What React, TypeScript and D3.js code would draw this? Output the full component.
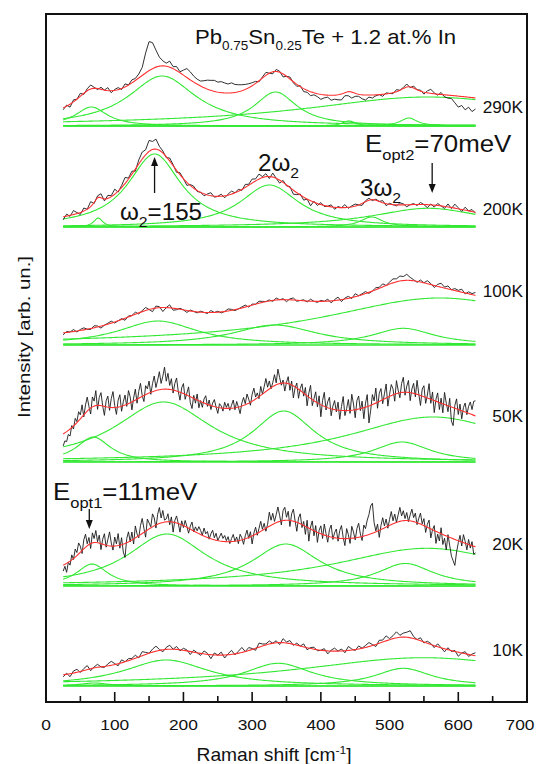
import React from "react";
import * as d3 from "d3";

// ---------- data ----------
const temperatures = ["290K", "200K", "100K", "50K", "20K", "10K"];
// vertical offset of each spectrum (arb. units)
const baselines = [576, 475, 357, 240, 116, 16];
const labelLevels = [594, 492, 410, 285, 157, 51];

// fitted components: [centre (cm-1), amplitude, half width (cm-1)]
const peaks290 = [[66, 19, 28], [169, 50, 60], [334, 34, 38], [555, 29, 220], [441, 5, 12], [528, 8, 15]];
const peaks200 = [[76, 9, 8], [158, 73, 47], [325, 42, 52], [474, 10, 20], [556, 18.7, 100]];
const peaks100 = [[163, 24, 70], [333, 20, 75], [520, 16.7, 55], [573, 47, 207]];
const peaks50 = [[69, 25, 30], [171, 60, 85], [346, 51, 55], [518, 20, 50], [563, 45, 151]];
const peaks20 = [[67, 22, 28], [176, 52, 70], [349, 42, 60], [523, 22.5, 50], [554, 37.7, 162]];
const peaks10 = [[70, 3, 25], [175, 26, 75], [338, 22.7, 60], [520, 17.7, 50], [549, 28.3, 222]];

// measured spectra: deviation of the data from the fit, evenly sampled from 25 to 625 cm-1
const resid290 = [
  -2, 1, -3, 2, 0, 3, -1, 2, 4, 1,
  -1, 2, 0, 3, -2, 1, 2, -1, 3, 0,
  3, 2, 4, 8, 20, 29, 26, 17, 9, 5,
  3, 6, 2, 4, 1, 5, 9, 8, 6, 5,
  5, 7, 9, 10, 11, 10, 11, 10, 9, 10, 8, 7, 6, 5, 4, 3,
  2, -1, 1, 3, 0, -2, 2, 1, -3, 0, 2, -1, -2, 1, -3, -2, -4, -2, -3, -5, -3, -2, -5, -4,
  -5, -6, -3, -4, -6, -3, -2, -4, -5, -2, -3, -1, 0, -2, 1, 0, -1, 2, 0, 1, 3, -1, 2, 0, 1, -2, 2, 4, 1, -1, 2, -2, -3,
  -3, -7, -11, -9, -13, -10, -14, -11,
];
const resid200 = [
  -3, 2, -1, 4, 1, -2, 3, 0, 5, -1, 2, 4, -2, 3, 1, 5, -1, 2, 6, 1,
  3, -2, 4, 7, 5, 11, 8, 10, 4, 2,
  -1, 3, 1, -2, 2, 0, -3, 1, 2, -1, 0, -2, 1, 3, -1, 0, 2, -2, 1, 3,
  0, 2, -1, 3, 1, 4, 2, 5, 1, 3, -2, 4, 0, -3, 2, -1, 1, -4, -2, 1,
  -3, 0, -5, 1, -2, 2, -1, 0, 2, -2, 1, 0, 3, -1, 1, 2, 0, -2, 1, 2,
  -1, 1, 0, 2, -2, 1, 0, -1, 2, 1, -2, 0, 1, -1, 2, 0, -3, 1, -2, 2,
  0, -2, 3, -1, 4, 1, -2, 3, 0, 2, -1,
];
const resid100 = [
  -2, 1, 0, 2, -1, 1, 2, 0, -1, 2, 1, -2, 0, 1, 2, -1, 0, 1, -2, 1,
  0, 2, -1, 1, 3, 0, -3, 2, 1, -4, 0, 3, -2, -1, 1, 0, -2, 1, 0, -1,
  1, 0, -1, 2, 0, 1, -1, 0, 2, 1, -1, 0, 1, 2, -1, 1, 0, 2, 1, 0,
  1, -1, 2, 0, 1, -2, 1, 2, -1, 0, 1, -1, 2, 0, -1, 1, 0, 2, -2, 1,
  3, -2, 1, 2, -1, 3, 0, 1, 2, -1, 0, 2, 1, 3, 0, 2, 4, 3, 5, 4,
  6, 3, 1, -1, 2, 0, 3, 1, -2, 2, 4, 1, 3, 0, 2, 1, 3, -1, 2, 1, 3,
];
const resid50 = [
  -12, -8, -10, -4, -7, 2, -3, 6, 1, 9, 4, 12, -2, 8, 14, 3, -6, 10, 5, 15,
  -4, 8, 13, 0, -9, 6, 11, -3, 9, 16, 2, -7, 7, 12, -5, 4, 10, -2, 13, 6,
  -8, 3, 11, -4, 7, 14, 1, -6, 9, 5, 12, -2, 8, 15, 3, 10, 18, 6, 13, 22,
  8, 16, 4, 11, -3, 7, 13, 0, -8, 5, 10, -5, 2, 9, -6, -11, 3, -4, 6, -7,
  1, -5, 4, 8, -2, 5, -4, 3, 7, 0, -6, 4, 2, -3, 6, 1, 5, -2, 3, 8,
  -2, 6, 0, -7, 3, 8, 1, 10, 4, -3, 7, 12, 2, 5, -2, 9, 0, 6, 13, 3,
  8, -1, 4, 11, 2, 15, 6, -2, 3, -8, 1, 7, -6, 4, -12, -1, 5, -9, 2, 8,
  -3, 7, -10, 4, 13, -6, 2, 10, -4, 8, -12, 5, 14, -3, 6, 11, -7, 3, 9, -2,
  8, -9, 4, 14, -5, 2, 11, -3, 16, 6, -8, 9, 13, -2, 7, -11, 4, 12, -17, -5,
  10, 3, 15, -6, 8, 12, -4, 5, 14, -9, 2, 11, 6, -7, 13, 3, -5, 9, 15, -3,
  6, 12, -8, 4, 10, -3, 14, 1, -10, 7, 11, -6, 3, 15, -4, 8, -12, 2, 9, -7,
  5, -9, 12, 2, -6, 8, -14, -18, 3, 10, -5, 6, -8, 4, 9, -2, 7, 12, 5, 14,
  15,
];
const resid20 = [
  -6, -2, -9, 0, -4, 5, -1, 8, 3, 11, 6, -3, 9, 13, 2, 7, -5, 10, 4, 12,
  1, 8, -6, 5, 11, -2, 6, 14, 3, -4, 9, 2, 12, -3, 7, -8, -14, 4, 10, -1,
  8, -5, 12, 3, -2, 9, 15, 4, -6, 11, 6, 1, 13, 8, -3, 10, 16, 5, 12, 2,
  3, 8, -3, 5, -10, 2, 7, 0, -8, 4, -2, 6, 1, -5, 3, 8, -1, 5, 2, 7,
  4, 0, 8, 3, 6, -1, 5, 9, 2, 7, 0, 4, 8, 3, 6, 1, 5, -2, 3, 7,
  0, 4, -3, 6, 2, -5, 3, 8, -1, 5, -8, 2, 7, -2, 4, 10, 1, 6, -3, 3,
  14, 5, 11, 2, 8, 15, 6, -4, 10, 13, 3, 9, -6, 7, 12, 1, -9, 5, 10, -3,
  4, -8, 7, -13, 2, 9, -5, 6, -10, 3, 8, -4, 11, 2, -6, 7, 12, -2, 5, 9,
  -3, 8, 13, 1, -7, 10, 4, -5, 12, 6, -2, 9, 14, 3, -4, 11, 7, 15, 20, 28,
  30, 10, 1, 7, -7, 4, 11, 2, 8, -2, 6, 13, 3, 9, 0, 7, 14, 5, 10, 2,
  8, -1, 6, 12, 4, 9, -2, 5, 11, 1, 7, -6, 3, 8, -9, 0, 5, -12, -2, -8,
  6, -10, -3, -14, 2, -8, -18, -22, -26, -12, -2, 6, -4, 8, 2, -6, 5, -3, 4, -8,
  -6,
];
const resid10 = [
  -2, 1, -3, 2, 3, -1, 2, 4, -2, 1, 3, 0, -1, 2, 4, 1, -2, 3, 0, 2,
  1, 3, -1, 4, 2, 0, 3, 5, 1, -2, 2, 4, 0, 3, -1, 2, 1, -3, 2, 0,
  -2, 3, 1, -4, 2, 0, 3, -3, 1, 4, -1, 2, 5, 0, 3, 1, -2, 4, 2, 1,
  3, 0, 2, -2, 4, 1, 3, -1, 2, 0, 3, -2, 1, 2, -1, 0, 2, -3, 1, 3,
  0, 2, -2, 4, 1, -1, 3, 0, 2, 4, 1, -2, 3, 2, 5, 1, 3, 6, 2, 4,
  5, 7, 2, 0, 3, -1, 2, 1, -2, 3, 0, -3, 2, -1, 1, -4, 0, 2, -2, 1, 3,
];

const peakSets = [peaks290, peaks200, peaks100, peaks50, peaks20, peaks10];
const residSets = [resid290, resid200, resid100, resid50, resid20, resid10];
const shiftStart = 25;
const shiftEnd = 625;
const xMajorTicks = [0, 100, 200, 300, 400, 500, 600, 700];
const xMinorTicks = [50, 150, 250, 350, 450, 550, 650];

// ---------- chart ----------
const FONT = "'Liberation Sans', Arial, Helvetica, sans-serif";
const GREEN = "#33e833";
const RED = "#ff3030";

function T({ x, y, size, sx = 1.1, anchor = "start", children, rotate = 0, baseline }: any) {
  return (
    <text
      transform={`translate(${x},${y}) rotate(${rotate}) scale(${sx},1)`}
      fontSize={size}
      textAnchor={anchor}
      dominantBaseline={baseline}
      fill="#111"
    >
      {children}
    </text>
  );
}

function Arrow({ x, y1, y2 }: { x: number; y1: number; y2: number }) {
  const dir = y2 > y1 ? 1 : -1;
  const hl = 9;
  const hw = 3.5;
  return (
    <g>
      <line x1={x} x2={x} y1={y1} y2={y2 - dir * hl} stroke="#111" strokeWidth={1.3} />
      <path d={`M${x},${y2} L${x - hw},${y2 - dir * hl} L${x + hw},${y2 - dir * hl} Z`} fill="#111" />
    </g>
  );
}

export default function App() {
  const W = 536;
  const H = 764;
  const left = 46, right = 527, top = 14, bottom = 702;
  const x = d3.scaleLinear().domain([0, 700]).range([left, right]);
  const y = d3.scaleLinear().domain([0, 688]).range([bottom, top]);
  const lor = (v: number, p: number[]) => p[1] / (1 + ((v - p[0]) / p[2]) ** 2);
  const fine = d3.range(shiftStart, shiftEnd + 0.01, 2);
  const line = d3
    .line<[number, number]>()
    .x((d) => x(d[0]))
    .y((d) => y(d[1]));

  const spectra = temperatures.map((t, k) => {
    const base = baselines[k];
    const peaks = peakSets[k];
    const fit = (v: number) => base + d3.sum(peaks, (p) => lor(v, p));
    const comps = peaks.map((p) => line(fine.map((v) => [v, base + lor(v, p)] as [number, number])) || "");
    const baseLine = line([[shiftStart, base], [shiftEnd, base]]) || "";
    const fitLine = line(fine.map((v) => [v, fit(v)] as [number, number])) || "";
    const res = residSets[k];
    const step = (shiftEnd - shiftStart) / (res.length - 1);
    const dataLine = line(res.map((r, i) => {
      const v = shiftStart + i * step;
      return [v, fit(v) + r] as [number, number];
    })) || "";
    return { t, comps, baseLine, fitLine, dataLine, labelY: y(labelLevels[k]) };
  });

  return (
    <svg
      width={W}
      height={H}
      viewBox={`0 0 ${W} ${H}`}
      style={{ position: "absolute", left: 0, top: 0, background: "#fff" }}
      fontFamily={FONT}
    >
      <rect x={0} y={0} width={W} height={H} fill="#fff" />
      {spectra.map((s) => (
        <g key={s.t}>
          <path d={s.baseLine} fill="none" stroke={GREEN} strokeWidth={1.3} />
          {s.comps.map((d, i) => (
            <path key={i} d={d} fill="none" stroke={GREEN} strokeWidth={1.1} />
          ))}
          <path d={s.dataLine} fill="none" stroke="#1a1a1a" strokeWidth={0.9} strokeLinejoin="round" />
          <path d={s.fitLine} fill="none" stroke={RED} strokeWidth={1.1} />
          <T x={523} y={s.labelY} size={16} sx={1.08} anchor="end" baseline="central">{s.t}</T>
        </g>
      ))}

      {/* frame */}
      <rect x={left} y={top} width={right - left} height={bottom - top} fill="none" stroke="#111" strokeWidth={2} />
      {xMajorTicks.map((t) => (
        <g key={t}>
          <line x1={x(t)} x2={x(t)} y1={bottom} y2={bottom - 10} stroke="#111" strokeWidth={1.6} />
          <T x={Math.min(x(t), W - 16)} y={730} size={15.5} sx={1.12} anchor="middle">{t}</T>
        </g>
      ))}
      {xMinorTicks.map((t) => (
        <line key={t} x1={x(t)} x2={x(t)} y1={bottom} y2={bottom - 6} stroke="#111" strokeWidth={1.6} />
      ))}

      {/* axis titles */}
      <T x={274} y={761} size={17.5} sx={1.1} anchor="middle">
        Raman shift [cm<tspan fontSize={11} dy={-7}>-1</tspan><tspan dy={7}>]</tspan>
      </T>
      <T x={30} y={337} size={17} sx={1.2} anchor="middle" rotate={-90}>Intensity [arb. un.]</T>

      {/* title */}
      <T x={195} y={44} size={20.5} sx={1.08}>
        Pb<tspan fontSize={12.5} dy={6}>0.75</tspan><tspan dy={-6}>Sn</tspan>
        <tspan fontSize={12.5} dy={6}>0.25</tspan><tspan dy={-6}>Te + 1.2 at.% In</tspan>
      </T>

      {/* annotations */}
      <T x={120} y={220} size={23} sx={1.05}>
        ω<tspan fontSize={15} dy={7}>2</tspan><tspan dy={-7}>=155</tspan>
      </T>
      <T x={258} y={171} size={23} sx={1.05}>
        2ω<tspan fontSize={15} dy={7}>2</tspan>
      </T>
      <T x={360} y={196} size={23} sx={1.05}>
        3ω<tspan fontSize={15} dy={7}>2</tspan>
      </T>
      <T x={365} y={152} size={23.5} sx={1.1}>
        E<tspan fontSize={15} dy={8}>opt2</tspan><tspan dy={-8}>=70meV</tspan>
      </T>
      <T x={53} y={500} size={23.5} sx={1.1}>
        E<tspan fontSize={15} dy={8}>opt1</tspan><tspan dy={-8}>=11meV</tspan>
      </T>
      <Arrow x={x(158)} y1={193} y2={157} />
      <Arrow x={x(562)} y1={163} y2={193} />
      <Arrow x={x(63)} y1={509} y2={529} />
    </svg>
  );
}
